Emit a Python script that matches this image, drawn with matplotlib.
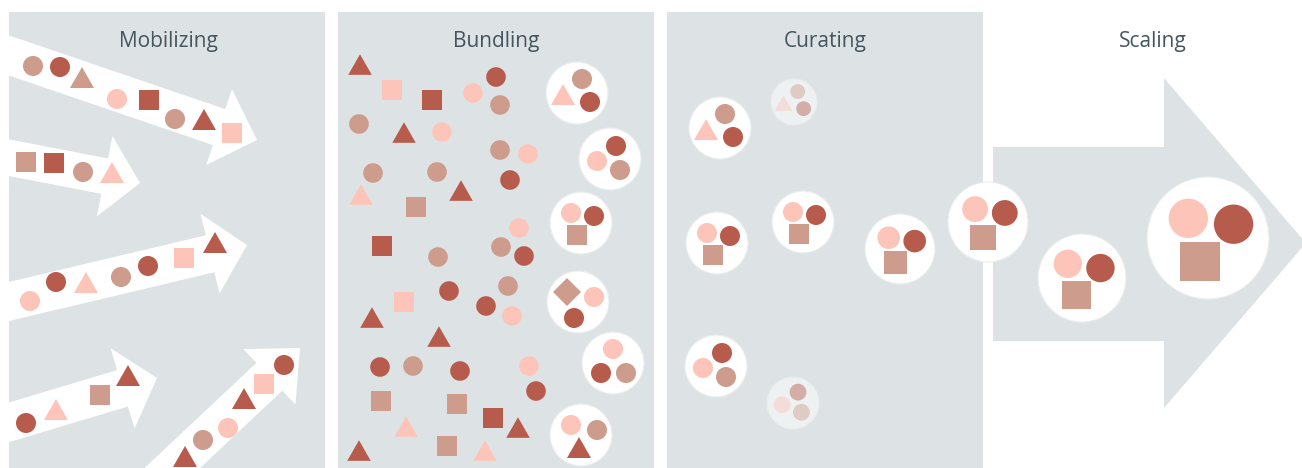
import matplotlib
matplotlib.use('Agg')
import matplotlib.pyplot as plt
import numpy as np
from matplotlib.patches import Circle, Rectangle, Polygon

# colours
DARK = '#b75b4d'
MID = '#cd9c8c'
LIGHT = '#fdc5b9'
PANEL = '#dde3e5'
TEXT = '#44555e'
COLS = {'d': DARK, 'm': MID, 'l': LIGHT}

titles = ['Mobilizing', 'Bundling', 'Curating', 'Scaling']
title_x = [168, 496, 825, 1153]

# panels (left, right)
panels = [(9, 325), (338, 654), (667, 983)]

# mobilizing arrows: start, tip, shaft half width, head half width, head length
arrows = [
    ((-10, 49), (257, 140), 19, 40, 40),
    ((-10, 154), (140, 183), 18, 41, 36),
    ((-10, 306), (247, 245), 19, 41, 38),
    ((-10, 428), (157, 378), 19, 42, 36),
    ((118, 519), (300, 348), 19, 38, 42),
]

# shapes riding on the arrows: kind, colour, x, y
arrow_shapes = [
    ('c', 'm', 33, 66), ('c', 'd', 60, 67), ('t', 'm', 82, 79), ('c', 'l', 117, 99),
    ('s', 'd', 149, 100), ('c', 'm', 175, 119), ('t', 'd', 204, 121), ('s', 'l', 232, 133),
    ('s', 'm', 26, 162), ('s', 'd', 54, 163), ('c', 'm', 83, 172), ('t', 'l', 112, 174),
    ('c', 'l', 30, 301), ('c', 'd', 56, 282), ('t', 'l', 86, 284), ('c', 'm', 121, 277),
    ('c', 'd', 148, 266), ('s', 'l', 184, 258), ('t', 'd', 215, 244),
    ('c', 'd', 26, 423), ('t', 'l', 56, 411), ('s', 'm', 100, 395), ('t', 'd', 128, 377),
    ('t', 'd', 185, 458), ('c', 'm', 203, 440), ('c', 'l', 228, 428), ('t', 'd', 244, 400),
    ('s', 'l', 264, 384), ('c', 'd', 284, 365),
]

# loose shapes in the bundling panel
loose_shapes = [
    ('t', 'd', 360, 66), ('s', 'l', 392, 90), ('s', 'd', 432, 100), ('c', 'l', 473, 93),
    ('c', 'd', 496, 77), ('c', 'm', 500, 105), ('c', 'm', 359, 124), ('t', 'd', 404, 134),
    ('c', 'l', 442, 132), ('c', 'm', 500, 150), ('c', 'l', 528, 154), ('c', 'm', 373, 173),
    ('c', 'm', 437, 172), ('c', 'd', 510, 180), ('t', 'l', 361, 196), ('t', 'd', 461, 192),
    ('s', 'm', 416, 207), ('c', 'l', 519, 228), ('s', 'd', 382, 246), ('c', 'm', 438, 257),
    ('c', 'm', 501, 247), ('c', 'd', 524, 256), ('c', 'm', 508, 286), ('c', 'd', 449, 291),
    ('s', 'l', 404, 302), ('c', 'd', 486, 306), ('c', 'l', 512, 316), ('t', 'd', 372, 319),
    ('t', 'd', 439, 338), ('c', 'd', 380, 367), ('c', 'm', 413, 366), ('c', 'd', 460, 371),
    ('c', 'l', 529, 366), ('c', 'd', 536, 391), ('s', 'm', 381, 401), ('s', 'm', 457, 404),
    ('s', 'd', 493, 418), ('t', 'l', 406, 428), ('t', 'd', 518, 429), ('s', 'm', 447, 446),
    ('t', 'l', 485, 452), ('t', 'd', 359, 452),
]

# bundle templates, offsets for a bundle of radius 31
templates = {
    'tri': [('t', 'l', -14, 3), ('c', 'm', 5, -14), ('c', 'd', 13, 9)],
    'trio': [('c', 'd', 6, -13), ('c', 'l', -13, 2), ('c', 'm', 10, 11)],
    'top3': [('c', 'l', 0, -14), ('c', 'd', -12, 10), ('c', 'm', 13, 10)],
    'pair_sq': [('c', 'l', -10, -10), ('c', 'd', 13, -7), ('s', 'm', -4, 12)],
    'diamond': [('r', 'm', -11, -10), ('c', 'l', 16, -5), ('c', 'd', -4, 16)],
    'tri_dark': [('c', 'l', -10, -10), ('c', 'm', 16, -5), ('t', 'd', -2, 14)],
}

# bundles: x, y, radius, template, faded
bundles = [
    (577, 93, 31, 'tri', False), (610, 159, 31, 'trio', False),
    (581, 223, 31, 'pair_sq', False), (578, 302, 31, 'diamond', False),
    (613, 363, 31, 'top3', False), (581, 435, 31, 'tri_dark', False),
    (720, 128, 31, 'tri', False), (794, 102, 23, 'tri', True),
    (717, 243, 31, 'pair_sq', False), (803, 222, 31, 'pair_sq', False),
    (900, 249, 35, 'pair_sq', False), (716, 366, 31, 'trio', False),
    (793, 403, 26, 'trio', True), (988, 222, 40, 'pair_sq', False),
    (1082, 278, 44, 'pair_sq', False), (1208, 238, 61, 'pair_sq', False),
]

# scaling arrow: body left, body top, body bottom, head base x, head top, head bottom, tip
scale_arrow = (993, 147, 341, 1164, 78, 408, (1306, 243))


def add_shape(ax, kind, col, x, y, s=1.0, alpha=1.0, z=5):
    c = COLS[col]
    if kind == 'c':
        p = Circle((x, y), 10 * s, fc=c, ec='none', alpha=alpha, zorder=z)
    elif kind == 's':
        p = Rectangle((x - 10 * s, y - 10 * s), 20 * s, 20 * s, fc=c, ec='none', alpha=alpha, zorder=z)
    elif kind == 'r':
        a = 14 * s
        p = Polygon([(x, y - a), (x + a, y), (x, y + a), (x - a, y)], fc=c, ec='none', alpha=alpha, zorder=z)
    else:
        p = Polygon([(x, y - 12 * s), (x - 12 * s, y + 9 * s), (x + 12 * s, y + 9 * s)],
                    fc=c, ec='none', alpha=alpha, zorder=z)
    ax.add_patch(p)
    return p


def arrow_poly(start, tip, w, h, L):
    S = np.array(start, float)
    T = np.array(tip, float)
    u = (T - S) / np.linalg.norm(T - S)
    n = np.array([-u[1], u[0]])
    B = T - L * u
    return [S + w * n, B + w * n, B + h * n, T, B - h * n, B - w * n, S - w * n]


fig = plt.figure(figsize=(13.02, 4.68), dpi=100)
ax = fig.add_axes([0, 0, 1, 1])
ax.set_xlim(0, 1302)
ax.set_ylim(468, 0)
ax.axis('off')

# a. panels
for left, right in panels:
    ax.add_patch(Rectangle((left, 12), right - left, 470, fc=PANEL, ec='none', zorder=1))

# b. scaling arrow
bl, bt, bb, hx, ht, hb, tip = scale_arrow
ax.add_patch(Polygon([(bl, bt), (hx, bt), (hx, ht), tip, (hx, hb), (hx, bb), (bl, bb)],
                     fc=PANEL, ec='none', zorder=1))

# c. mobilizing arrows, clipped to the first panel
clip = Rectangle((panels[0][0], 12), panels[0][1] - panels[0][0], 470, transform=ax.transData)
for start, tip_, w, h, L in arrows:
    p = Polygon(arrow_poly(start, tip_, w, h, L), fc='white', ec='none', zorder=2)
    ax.add_patch(p)
    p.set_clip_path(clip)
for kind, col, x, y in arrow_shapes:
    add_shape(ax, kind, col, x, y)

# d. loose shapes
for kind, col, x, y in loose_shapes:
    add_shape(ax, kind, col, x, y, s=0.98)

# e. bundles
for x, y, r, tmpl, faded in bundles:
    s = r / 31
    ax.add_patch(Circle((x, y), r, fc='#eef1f2' if faded else 'white',
                        ec='#e8eced', lw=0.8, zorder=3))
    for kind, col, dx, dy in templates[tmpl]:
        add_shape(ax, kind, col, x + dx * s, y + dy * s, s=s, alpha=0.45 if faded else 1.0)

# f. titles
for t, x in zip(titles, title_x):
    ax.text(x, 41, t, ha='center', va='center', fontsize=15, color=TEXT,
            family='Open Sans', zorder=6)

fig.savefig('out.png', dpi=100)
